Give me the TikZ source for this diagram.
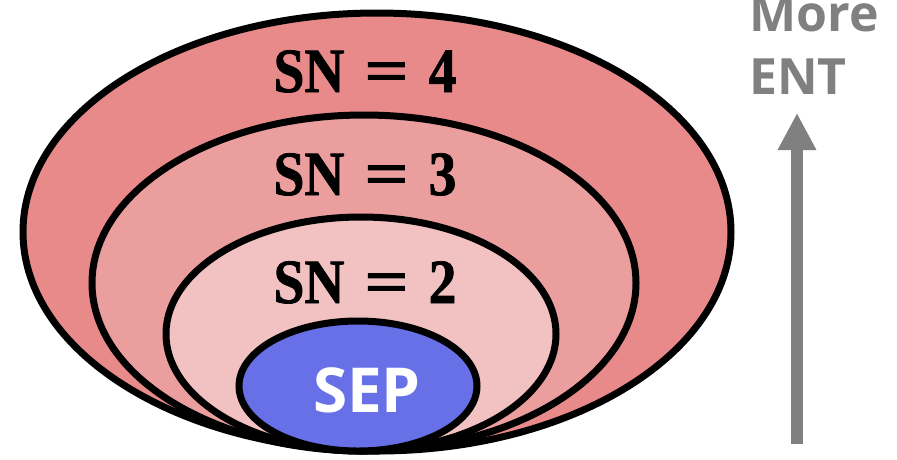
\documentclass[tikz,border=0pt]{standalone}
\usepackage{fontspec}
\usepackage{graphicx}
\newfontfamily\osans{Open Sans}
\newfontfamily\snfont[FakeStretch=0.88,FakeBold=1.2]{Liberation Serif Bold}
\usetikzlibrary{arrows.meta}
\definecolor{ringA}{HTML}{E88A8A}
\definecolor{ringB}{HTML}{EB9E9E}
\definecolor{ringC}{HTML}{F2C2C2}
\definecolor{sepblue}{HTML}{6870E8}
\definecolor{arrgray}{HTML}{808080}
\newcommand{\sneq}[1]{SN\hspace{20pt}\scalebox{1.4}[1]{=}\hspace{20pt}#1}
\tikzset{
  ring/.style={draw=black, line width=7pt},
  snlabel/.style={anchor=base, inner sep=0pt, font=\snfont\fontsize{63}{66}\selectfont},
  seplabel/.style={anchor=base, inner sep=0pt, text=white, font=\osans\bfseries\fontsize{62}{66}\selectfont},
  entlabel/.style={anchor=base west, inner sep=0pt, text=arrgray, font=\osans\bfseries\fontsize{50}{63}\selectfont},
  entarrow/.style={draw=arrgray, line width=12pt, -{Triangle[length=37pt, width=36pt]}}
}
\begin{document}
\begin{tikzpicture}[x=1pt, y=-1pt]
\useasboundingbox (0,0) rectangle (897,459);
\fill[white] (0,0) rectangle (897,459);
\draw[ring, fill=ringA] (377,232) ellipse [x radius=354, y radius=219];
\draw[ring, fill=ringB] (364,283) ellipse [x radius=272, y radius=168];
\draw[ring, fill=ringC] (361,334) ellipse [x radius=195, y radius=117];
\draw[ring, fill=sepblue] (358,386) ellipse [x radius=119, y radius=65];
\node[snlabel] (sn4) at (365,92) {\sneq{4}};
\node[snlabel] (sn3) at (365,195) {\sneq{3}};
\node[snlabel] (sn2) at (365,303) {\sneq{2}};
\node[seplabel] (sep) at (367,412) {SEP};
\node[entlabel] (more) at (749,31) {More};
\node[entlabel] (ent) at (749,94) {ENT};
\coordinate (abot) at (797,444);
\coordinate (atop) at (797,113);
\draw[entarrow] (abot) -- (atop);
\end{tikzpicture}
\end{document}
